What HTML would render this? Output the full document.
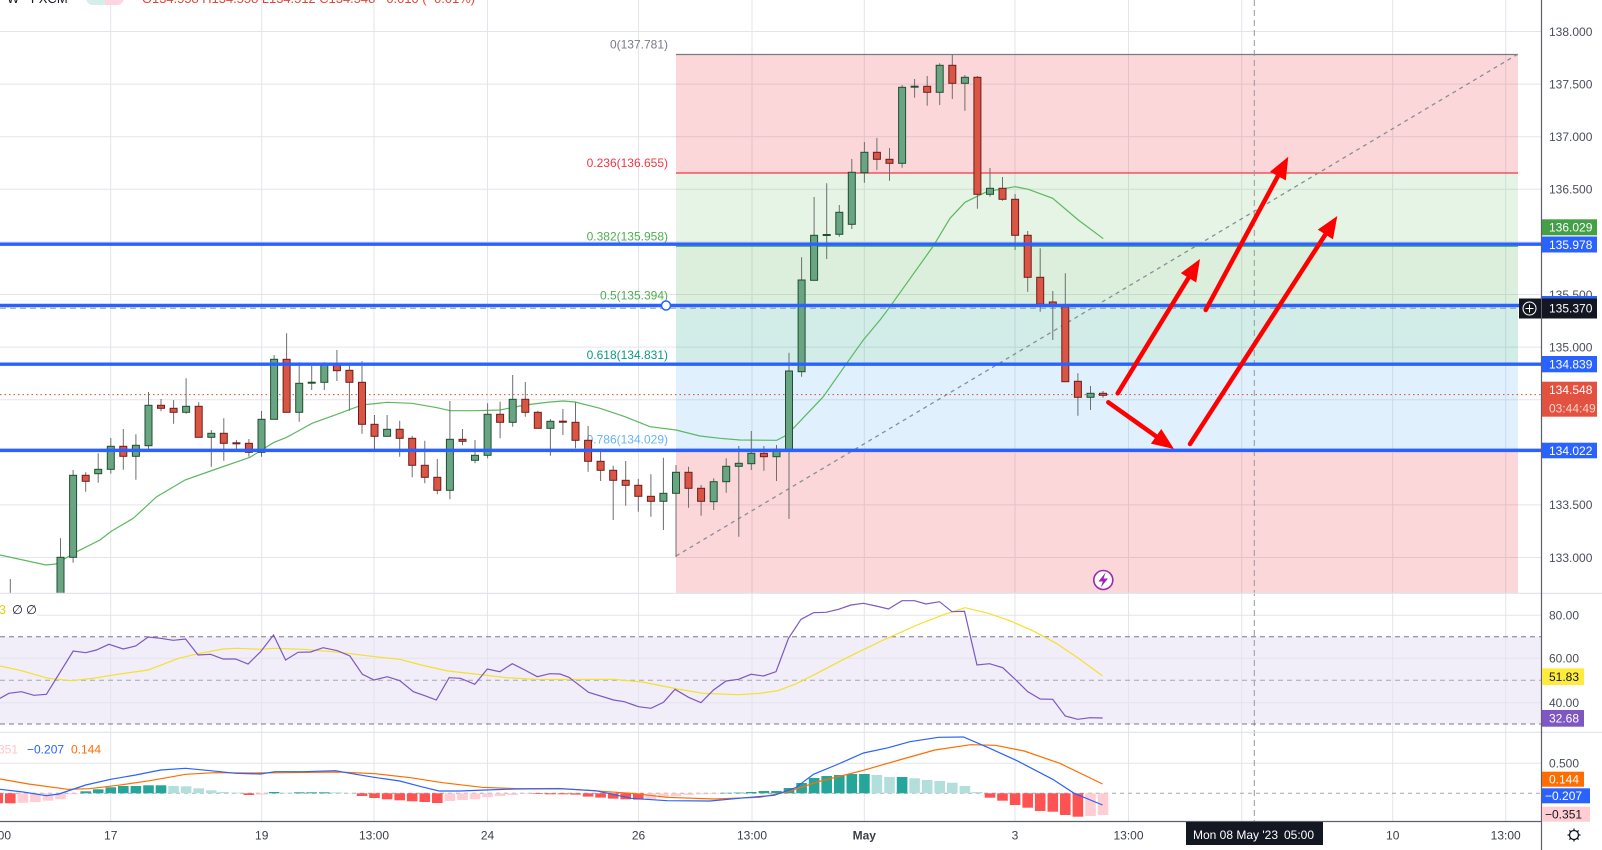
<!DOCTYPE html>
<html><head><meta charset="utf-8"><style>
html,body{margin:0;padding:0;background:#fff;}
body{width:1602px;height:850px;overflow:hidden;}
svg{display:block;font-family:"Liberation Sans",Arial,sans-serif;}
.w{stroke:#6e6e6e;stroke-width:1;fill:none}
.g{fill:#6aa583;stroke:#1e4f31;stroke-width:1}
.r{fill:#d95544;stroke:#701c1c;stroke-width:1}
.hg{fill:#26a69a}.hl{fill:#b2dfdb}.hr{fill:#ff5252}.hp{fill:#ffcdd2}
.ax{font-size:12px;fill:#4a4e59}
.tl{font-size:12px;fill:#3a3e49;text-anchor:middle}
.lb{font-size:12px;fill:#fff}
</style></head><body>
<svg width="1602" height="850" viewBox="0 0 1602 850" xmlns="http://www.w3.org/2000/svg">
<defs>
<clipPath id="mp"><rect x="0" y="0" width="1541" height="593"/></clipPath>
</defs>
<rect x="0" y="0" width="1602" height="850" fill="#fff"/>

<!-- RSI background -->
<rect x="0" y="636.7" width="1541" height="87.3" fill="#f1edf9"/>

<!-- grid -->
<g stroke="#e3e5eb" stroke-width="1">
<path d="M0 31.5H1541M0 84.1H1541M0 136.7H1541M0 189.3H1541M0 241.9H1541M0 294.5H1541M0 347.1H1541M0 399.7H1541M0 452.3H1541M0 504.9H1541M0 557.5H1541"/>
<path d="M0 615.3H1541M0 658.3H1541M0 702.7H1541M0 763.3H1541"/>
<path d="M110.7 0V821M261.7 0V821M374 0V821M487.5 0V821M638.5 0V821M752 0V821M864.3 0V821M1015 0V821M1128.5 0V821M1241.7 0V821M1392.7 0V821M1505.7 0V821"/>
</g>

<!-- fib fills -->
<g>
<rect x="676" y="54.5" width="842" height="118.5" fill="rgba(242,54,69,0.2)"/>
<rect x="676" y="173" width="842" height="73.3" fill="rgba(76,175,80,0.14)"/>
<rect x="676" y="246.3" width="842" height="59.3" fill="rgba(76,175,80,0.2)"/>
<rect x="676" y="305.6" width="842" height="59.3" fill="rgba(8,153,129,0.18)"/>
<rect x="676" y="364.9" width="842" height="84.4" fill="rgba(100,181,246,0.2)"/>
<rect x="676" y="449.3" width="842" height="143.7" fill="rgba(242,54,69,0.2)"/>
<path d="M676 54.5H1518" stroke="#787b86" stroke-width="1.3"/>
<path d="M676 173H1518" stroke="#f23645" stroke-width="1.2"/>
<path d="M676 246.3H1518" stroke="#4caf50" stroke-width="1.2"/>
<path d="M676 364.9H1518" stroke="#089981" stroke-width="1.2"/>
<path d="M676 449.3H1518" stroke="#64b5f6" stroke-width="1.2"/>
</g>
<g font-size="12" text-anchor="end">
<text x="668" y="48.5" fill="#787b86">0(137.781)</text>
<text x="668" y="167" fill="#f23645">0.236(136.655)</text>
<text x="668" y="240.3" fill="#4caf50">0.382(135.958)</text>
<text x="668" y="299.6" fill="#4caf50">0.5(135.394)</text>
<text x="668" y="358.9" fill="#089981">0.618(134.831)</text>
<text x="668" y="443.3" fill="#64b5f6">0.786(134.029)</text>
</g>

<!-- trend line dashed -->
<path d="M676 556L1518 54" stroke="#8a8d96" stroke-width="1.3" stroke-dasharray="4 4" fill="none"/>

<!-- crosshair -->
<path d="M0 308.2H1519" stroke="#9598a1" stroke-width="1" stroke-dasharray="6 4"/>
<path d="M1254.3 0V821" stroke="#9598a1" stroke-width="1" stroke-dasharray="6 4"/>

<!-- current price dotted -->
<path d="M0 394.6H1541" stroke="#e0453a" stroke-width="1" stroke-dasharray="1.5 3"/>

<!-- MA -->
<polyline fill="none" stroke="#5cb85f" stroke-width="1.2" clip-path="url(#mp)" points="0,555 46,565 55.7,564 76.7,551.7 100,540 111.7,531 133.3,518.3 156.7,496.7 185,480 213.3,470 250,457.3 273.3,442.7 286.7,437.3 300,430 312,423.3 337,414.3 362,405 387,402.3 412,403.3 437,407.7 450,410.7 475,410.7 500,410 525,405 550,402 563,401 575,402 600,408.3 625,416.7 650,426.7 676,430 700,436 720,438.3 740,440 776.7,440.3 785,436 793.3,428.3 823.3,396.7 846.7,363.3 863.3,340 880,320 890,306.7 933.3,246 950,218.3 965,202.3 986.7,191.7 1015,186.7 1028.3,189.3 1052.7,198.3 1078.3,220 1103.3,238.7"/>

<!-- candles -->
<g clip-path="url(#mp)">
<path class="w" d="M10.3 579V600M60.5 538.3V600M73.1 470V562.7M85.7 472.3V491.7M98.2 453.3V482.7M110.8 438V473.7M123.3 429V469.7M135.9 434.3V479.7M148.5 392V449.3M161 399V411.3M173.6 400V423.7M186.1 378.3V413.7M198.7 402.3V437.3M211.3 430V466.7M223.8 418.3V460.7M236.4 440V451M248.9 439V456.7M261.5 411V456.7M274.1 355V419.3M286.6 333.3V412.3M299.2 362.3V421.7M311.7 365.7V390M324.3 362.3V390M336.9 350V381M349.4 365.7V410.7M362 361.3V433.7M374.5 415V450.7M387.1 415V436.3M399.7 420.7V456.7M412.2 436V477.3M424.8 440.7V483.3M437.3 459V494.3M449.9 401V499.3M462.5 429V445.3M475 440V463.3M487.6 403.3V458.3M500.1 401.7V438.3M512.7 375V426.7M525.3 382V416.7M537.8 410.7V428.3M550.4 419V455.7M562.9 409V435M575.5 402.3V448.3M588.1 426V471.7M600.6 450V481M613.2 465.7V520M625.7 461V505.7M638.3 479V511.7M650.9 474.3V516.7M663.4 457.7V530M676 465V557M688.5 466.7V507.7M701.1 485V515.7M713.7 478.3V510M726.2 458.3V492.7M738.8 446V536.7M751.3 431V470M763.9 446V470.7M776.5 445V481M789 352.7V519M801.6 257.3V376.7M814.1 197V280.3M826.7 183.3V259M839.3 205V236.7M851.8 159V229M864.4 142V182.7M876.9 138V170M889.5 148V180.7M902.1 85V167.7M914.6 79V97.7M927.2 76V105.7M939.7 63.3V105M952.3 54.3V99M964.9 75V110.7M977.4 76V208.7M990 168V196.7M1002.5 177V200.7M1015.1 194V250M1027.7 231V291.7M1040.2 248.3V311.7M1052.8 291V340M1065.3 273.3V381.7M1077.9 373.3V415.7M1090.5 386V410M1103 391V397.7"/>
<rect class="g" x="57" y="557.3" width="7" height="40"/>
<rect class="g" x="69.6" y="475.3" width="7" height="82"/>
<rect class="r" x="82.2" y="475.3" width="7" height="6"/>
<rect class="g" x="94.7" y="469.3" width="7" height="4.4"/>
<rect class="g" x="107.3" y="446.3" width="7" height="23"/>
<rect class="r" x="119.8" y="446.3" width="7" height="10"/>
<rect class="g" x="132.4" y="445.3" width="7" height="11"/>
<rect class="g" x="145" y="405.3" width="7" height="40.4"/>
<rect class="r" x="157.5" y="405.3" width="7" height="3"/>
<rect class="r" x="170.1" y="408.3" width="7" height="4"/>
<rect class="g" x="182.6" y="406.3" width="7" height="6"/>
<rect class="r" x="195.2" y="406.3" width="7" height="31"/>
<rect class="g" x="207.8" y="433.3" width="7" height="4"/>
<rect class="r" x="220.3" y="433.3" width="7" height="10"/>
<rect class="r" x="232.9" y="442.8" width="7" height="1"/>
<rect class="r" x="245.4" y="443.3" width="7" height="9"/>
<rect class="g" x="258" y="419.3" width="7" height="33"/>
<rect class="g" x="270.6" y="359.3" width="7" height="60"/>
<rect class="r" x="283.1" y="359.3" width="7" height="53"/>
<rect class="g" x="295.7" y="383.3" width="7" height="29"/>
<rect class="g" x="308.2" y="382.2" width="7" height="1"/>
<rect class="g" x="320.8" y="364" width="7" height="18.3"/>
<rect class="r" x="333.4" y="364" width="7" height="6.7"/>
<rect class="r" x="345.9" y="370.3" width="7" height="12"/>
<rect class="r" x="358.5" y="382.3" width="7" height="42"/>
<rect class="r" x="371" y="424.3" width="7" height="12"/>
<rect class="g" x="383.6" y="429.3" width="7" height="7"/>
<rect class="r" x="396.2" y="429.3" width="7" height="9"/>
<rect class="r" x="408.7" y="438.3" width="7" height="27"/>
<rect class="r" x="421.3" y="465.3" width="7" height="12"/>
<rect class="r" x="433.8" y="477.3" width="7" height="13"/>
<rect class="g" x="446.4" y="439.3" width="7" height="51"/>
<rect class="r" x="459" y="439.3" width="7" height="2"/>
<rect class="g" x="471.5" y="455.3" width="7" height="5"/>
<rect class="g" x="484.1" y="414.3" width="7" height="41"/>
<rect class="r" x="496.6" y="414.3" width="7" height="8"/>
<rect class="g" x="509.2" y="399.3" width="7" height="23"/>
<rect class="r" x="521.8" y="399.3" width="7" height="13"/>
<rect class="r" x="534.3" y="412.3" width="7" height="16"/>
<rect class="g" x="546.9" y="421.3" width="7" height="7"/>
<rect class="r" x="559.4" y="421.2" width="7" height="1"/>
<rect class="r" x="572" y="422.3" width="7" height="18"/>
<rect class="r" x="584.6" y="440.3" width="7" height="21"/>
<rect class="r" x="597.1" y="461.3" width="7" height="9"/>
<rect class="r" x="609.7" y="470.3" width="7" height="10"/>
<rect class="r" x="622.2" y="480.3" width="7" height="5"/>
<rect class="r" x="634.8" y="485.3" width="7" height="11"/>
<rect class="r" x="647.4" y="496.3" width="7" height="5"/>
<rect class="g" x="659.9" y="493.3" width="7" height="8"/>
<rect class="g" x="672.5" y="472.3" width="7" height="21"/>
<rect class="r" x="685" y="472.3" width="7" height="16"/>
<rect class="r" x="697.6" y="488.3" width="7" height="13"/>
<rect class="g" x="710.2" y="481.7" width="7" height="20"/>
<rect class="g" x="722.7" y="466.3" width="7" height="15.4"/>
<rect class="g" x="735.3" y="463.3" width="7" height="3"/>
<rect class="g" x="747.8" y="453.3" width="7" height="10.4"/>
<rect class="r" x="760.4" y="453.3" width="7" height="3.4"/>
<rect class="g" x="773" y="449.3" width="7" height="7.4"/>
<rect class="g" x="785.5" y="371" width="7" height="78.3"/>
<rect class="g" x="798.1" y="280" width="7" height="91.7"/>
<rect class="g" x="810.6" y="235.3" width="7" height="45"/>
<rect class="g" x="823.2" y="234.5" width="7" height="1"/>
<rect class="g" x="835.8" y="212.3" width="7" height="22"/>
<rect class="g" x="848.3" y="172.3" width="7" height="52"/>
<rect class="g" x="860.9" y="152.3" width="7" height="20.4"/>
<rect class="r" x="873.4" y="152.3" width="7" height="7"/>
<rect class="r" x="886" y="159.3" width="7" height="4"/>
<rect class="g" x="898.6" y="87.3" width="7" height="76"/>
<rect class="g" x="911.1" y="86.2" width="7" height="1"/>
<rect class="r" x="923.7" y="86.3" width="7" height="6"/>
<rect class="g" x="936.2" y="65.3" width="7" height="27"/>
<rect class="r" x="948.8" y="65.3" width="7" height="18"/>
<rect class="g" x="961.4" y="77.3" width="7" height="6"/>
<rect class="r" x="973.9" y="77.3" width="7" height="117"/>
<rect class="g" x="986.5" y="188.3" width="7" height="6"/>
<rect class="r" x="999" y="188.3" width="7" height="11"/>
<rect class="r" x="1011.6" y="199.3" width="7" height="36"/>
<rect class="r" x="1024.2" y="235.3" width="7" height="42"/>
<rect class="r" x="1036.7" y="277.3" width="7" height="26.7"/>
<rect class="r" x="1049.3" y="302" width="7" height="4"/>
<rect class="r" x="1061.8" y="306.7" width="7" height="75"/>
<rect class="r" x="1074.4" y="381.3" width="7" height="16"/>
<rect class="g" x="1087" y="393.3" width="7" height="4"/>
<rect class="r" x="1099.5" y="393.3" width="7" height="2"/>
</g>

<!-- blue horizontal lines -->
<g stroke="#2962ff" stroke-width="3.4">
<path d="M0 244.2H1541M0 305.5H1541M0 364.2H1541M0 450.3H1541"/>
</g>
<circle cx="666" cy="305.5" r="4.5" fill="#fff" stroke="#2962ff" stroke-width="1.5"/>

<!-- red arrows -->
<g stroke="#ff0000" stroke-width="4.5" stroke-linecap="round" fill="none">
<path d="M1117.7 393.3L1188.5 277.8"/>
<path d="M1108.3 402.3L1156.1 436.3"/>
<path d="M1205.7 310L1277.9 176.1"/>
<path d="M1190 444L1325.4 234.5"/>
</g>
<g fill="#ff0000">
<polygon points="1200,259 1196.2,282.5 1180.8,273.1"/>
<polygon points="1174,449 1150.9,443.6 1161.3,429"/>
<polygon points="1288.3,156.7 1285.8,180.4 1270,171.8"/>
<polygon points="1337.3,216 1333,239.4 1317.8,229.6"/>
</g>

<!-- lightning icon -->
<circle cx="1103.3" cy="580" r="9.5" fill="#fff" stroke="#9c27b0" stroke-width="1.6"/>
<polygon points="1105.5,572.5 1098.5,581.5 1102.8,581.5 1100.8,587.5 1108,578.5 1103.6,578.5" fill="#9c27b0"/>

<!-- header -->
<text x="7" y="3" font-size="13" fill="#131722">W · FXCM</text>
<rect x="86" y="-10" width="38" height="15" rx="7" fill="#fdd5e0"/>
<path d="M93 -10H105V5H93A7 7 0 0 1 86 -2V-3A7 7 0 0 1 93 -10Z" fill="#d4efe9"/>
<text x="142" y="3" font-size="13" fill="#e0453a" textLength="333" lengthAdjust="spacingAndGlyphs">O134.558 H134.558 L134.512 C134.548 −0.010 (−0.01%)</text>

<!-- RSI pane -->
<path d="M0 636.7H1541M0 724H1541" stroke="#787b86" stroke-width="1" stroke-dasharray="5 4"/>
<path d="M0 680.3H1541" stroke="#a5a8b0" stroke-width="1" stroke-dasharray="5 4"/>
<polyline fill="none" stroke="#f5e02a" stroke-width="1.2" points="0,666 21.4,670.7 48.2,678.3 71.4,680.7 92.8,678.3 117.8,674.3 148.2,670 178.5,658.3 199.9,653.3 223.1,649 237.4,648.3 260.6,649.3 273.1,648.3 303.5,649.3 339.2,652.3 374.9,656.7 399.8,659.3 421.3,665 448,671 474.8,674 507,677.7 535.5,679.3 560,679.5 613.6,679.3 642.1,682 677.8,689 702.8,693.3 738.5,694.7 760,693.3 777.8,690.7 795.6,684 817,673.3 845.6,658.3 881.3,641 917,625 945.6,614 965.2,607.7 988.4,613.3 1009.8,620.7 1034.8,631.7 1056.2,643.3 1077.7,657.7 1102.6,676"/>
<polyline fill="none" stroke="#7e57c2" stroke-width="1.2" points="0,698.3 8.9,693.3 21.4,691.7 33.9,695.3 46.4,694.3 73.2,651 85.7,652.7 96.4,650 108.9,644.3 123.2,649 135.7,646 148.2,637 160.7,638.3 173.2,640.3 185.6,639 198.1,655 210.6,654.3 223.1,659 235.6,659 248.1,664 260.6,651.7 273.5,635 285.6,660 298.1,652.3 310.6,652 323.1,647.7 337.4,650.7 349.9,656 362.4,674.3 374.1,680 387.3,676.7 399.8,680.7 413.4,691.7 424.8,695.7 436.3,700 449.1,677.7 460.5,678.3 474.8,684.3 487.3,669 499.8,671.7 512.3,663.7 524.8,670 537.3,676.7 549.8,673.7 560,674 568.9,677.3 588.6,692.3 613.6,700 624.3,701.7 638.5,706.7 651,708.3 663.5,702.3 675,689.3 688.5,697.3 701,702.7 713.5,690 726,681 738.5,679.3 751,674.3 763.5,676 776,671.7 788.5,638.3 801,619.3 813.5,612.7 826,612.3 838.5,609.3 851,605 863.5,603.3 876,606 888.5,609 902,600.7 914.5,600.7 926,604 939.5,601.7 952,611.7 964.5,611.3 977,665 989.5,663.7 1002.7,667.7 1015.2,679.3 1027.7,691.7 1040.2,699 1052.7,699.3 1065.2,716 1077.7,719.3 1090.2,717.7 1102.6,718"/>
<rect x="0" y="602" width="37" height="14" fill="#fff"/>
<text x="-1" y="614" font-size="12.5" fill="#e8cf10">3</text>
<text x="12" y="614" font-size="12.5" fill="#131722">∅</text>
<text x="26" y="614" font-size="12.5" fill="#131722">∅</text>

<!-- MACD pane -->
<path d="M0 793.3H1541" stroke="#a5a8b0" stroke-width="1" stroke-dasharray="4 4"/>
<g>
<rect class="hr" x="-7.6" y="793.3" width="10.6" height="10"/>
<rect class="hr" x="5" y="793.3" width="10.6" height="10"/>
<rect class="hp" x="17.6" y="793.3" width="10.6" height="9.5"/>
<rect class="hp" x="30.1" y="793.3" width="10.6" height="8.7"/>
<rect class="hp" x="42.7" y="793.3" width="10.6" height="7.4"/>
<rect class="hp" x="55.2" y="793.3" width="10.6" height="6"/>
<rect class="hp" x="67.8" y="793.3" width="10.6" height="1"/>
<rect class="hg" x="80.4" y="791.3" width="10.6" height="2"/>
<rect class="hg" x="92.9" y="789.3" width="10.6" height="4"/>
<rect class="hg" x="105.5" y="787.3" width="10.6" height="6"/>
<rect class="hg" x="118" y="786" width="10.6" height="7.3"/>
<rect class="hg" x="130.6" y="786" width="10.6" height="7.3"/>
<rect class="hg" x="143.2" y="785.3" width="10.6" height="8"/>
<rect class="hg" x="155.7" y="785.3" width="10.6" height="8"/>
<rect class="hl" x="168.3" y="786" width="10.6" height="7.3"/>
<rect class="hl" x="180.8" y="786.3" width="10.6" height="7"/>
<rect class="hl" x="193.4" y="788.3" width="10.6" height="5"/>
<rect class="hl" x="206" y="790.3" width="10.6" height="3"/>
<rect class="hl" x="218.5" y="792" width="10.6" height="1.3"/>
<rect class="hl" x="231.1" y="792.6" width="10.6" height="0.7"/>
<rect class="hr" x="243.6" y="793.3" width="10.6" height="1.7"/>
<rect class="hp" x="256.2" y="793.3" width="10.6" height="1.3"/>
<rect class="hg" x="268.8" y="792" width="10.6" height="1.3"/>
<rect class="hl" x="281.3" y="792.8" width="10.6" height="0.5"/>
<rect class="hg" x="293.9" y="792.3" width="10.6" height="1"/>
<rect class="hg" x="306.4" y="792.3" width="10.6" height="1"/>
<rect class="hg" x="319" y="792.3" width="10.6" height="1"/>
<rect class="hl" x="331.6" y="792.3" width="10.6" height="1"/>
<rect class="hl" x="344.1" y="793" width="10.6" height="0.3"/>
<rect class="hr" x="356.7" y="793.3" width="10.6" height="2.7"/>
<rect class="hr" x="369.2" y="793.3" width="10.6" height="4.7"/>
<rect class="hr" x="381.8" y="793.3" width="10.6" height="6"/>
<rect class="hr" x="394.4" y="793.3" width="10.6" height="7"/>
<rect class="hr" x="406.9" y="793.3" width="10.6" height="8"/>
<rect class="hr" x="419.5" y="793.3" width="10.6" height="8.7"/>
<rect class="hr" x="432" y="793.3" width="10.6" height="9.7"/>
<rect class="hp" x="444.6" y="793.3" width="10.6" height="7.7"/>
<rect class="hp" x="457.2" y="793.3" width="10.6" height="6.7"/>
<rect class="hp" x="469.7" y="793.3" width="10.6" height="6"/>
<rect class="hp" x="482.3" y="793.3" width="10.6" height="4"/>
<rect class="hp" x="494.8" y="793.3" width="10.6" height="2.7"/>
<rect class="hp" x="507.4" y="793.3" width="10.6" height="1.7"/>
<rect class="hp" x="520" y="793.3" width="10.6" height="0.7"/>
<rect class="hr" x="532.5" y="793.3" width="10.6" height="0.7"/>
<rect class="hr" x="545.1" y="793.3" width="10.6" height="1"/>
<rect class="hr" x="557.6" y="793.3" width="10.6" height="1"/>
<rect class="hr" x="570.2" y="793.3" width="10.6" height="1.3"/>
<rect class="hr" x="582.8" y="793.3" width="10.6" height="3.3"/>
<rect class="hr" x="595.3" y="793.3" width="10.6" height="4.3"/>
<rect class="hr" x="607.9" y="793.3" width="10.6" height="5.3"/>
<rect class="hr" x="620.4" y="793.3" width="10.6" height="6"/>
<rect class="hr" x="633" y="793.3" width="10.6" height="6.3"/>
<rect class="hp" x="645.6" y="793.3" width="10.6" height="6"/>
<rect class="hp" x="658.1" y="793.3" width="10.6" height="4.3"/>
<rect class="hp" x="670.7" y="793.3" width="10.6" height="2.7"/>
<rect class="hp" x="683.2" y="793.3" width="10.6" height="1.7"/>
<rect class="hp" x="695.8" y="793.3" width="10.6" height="1"/>
<rect class="hp" x="708.4" y="793.3" width="10.6" height="0.7"/>
<rect class="hg" x="720.9" y="792.8" width="10.6" height="0.5"/>
<rect class="hg" x="733.5" y="792.6" width="10.6" height="0.7"/>
<rect class="hg" x="746" y="792" width="10.6" height="1.3"/>
<rect class="hg" x="758.6" y="791" width="10.6" height="2.3"/>
<rect class="hg" x="771.2" y="791" width="10.6" height="2.3"/>
<rect class="hg" x="783.7" y="788" width="10.6" height="5.3"/>
<rect class="hg" x="796.3" y="783" width="10.6" height="10.3"/>
<rect class="hg" x="808.8" y="778" width="10.6" height="15.3"/>
<rect class="hg" x="821.4" y="776" width="10.6" height="17.3"/>
<rect class="hg" x="834" y="775" width="10.6" height="18.3"/>
<rect class="hg" x="846.5" y="774" width="10.6" height="19.3"/>
<rect class="hg" x="859.1" y="774" width="10.6" height="19.3"/>
<rect class="hl" x="871.6" y="775" width="10.6" height="18.3"/>
<rect class="hl" x="884.2" y="777" width="10.6" height="16.3"/>
<rect class="hg" x="896.8" y="777" width="10.6" height="16.3"/>
<rect class="hl" x="909.3" y="778.3" width="10.6" height="15"/>
<rect class="hl" x="921.9" y="780" width="10.6" height="13.3"/>
<rect class="hl" x="934.4" y="781" width="10.6" height="12.3"/>
<rect class="hl" x="947" y="782.7" width="10.6" height="10.6"/>
<rect class="hl" x="959.6" y="786" width="10.6" height="7.3"/>
<rect class="hl" x="972.1" y="792" width="10.6" height="1.3"/>
<rect class="hr" x="984.7" y="793.3" width="10.6" height="4.4"/>
<rect class="hr" x="997.2" y="793.3" width="10.6" height="7.4"/>
<rect class="hr" x="1009.8" y="793.3" width="10.6" height="11.7"/>
<rect class="hr" x="1022.4" y="793.3" width="10.6" height="14.4"/>
<rect class="hr" x="1034.9" y="793.3" width="10.6" height="17.7"/>
<rect class="hr" x="1047.5" y="793.3" width="10.6" height="18.4"/>
<rect class="hr" x="1060" y="793.3" width="10.6" height="21.7"/>
<rect class="hr" x="1072.6" y="793.3" width="10.6" height="23.4"/>
<rect class="hp" x="1085.2" y="793.3" width="10.6" height="22.7"/>
<rect class="hp" x="1097.7" y="793.3" width="10.6" height="21.7"/>
</g>
<polyline fill="none" stroke="#ff6d00" stroke-width="1.2" points="0,779 28.6,784 67.8,789.3 89.3,788.7 117.8,785.3 149.9,780.7 185.6,774.3 214.2,772.7 249.9,773 285.6,772.7 339.2,772 374.9,773.7 410.6,777.7 442.7,782.7 482,787.3 517.7,788.7 560,788.5 631.4,793.3 667.1,797.3 713.5,799 760,797.3 788.5,791.7 817,782 863.5,770.3 899.2,760 934.9,750 970.6,744.7 995.5,745.3 1024.1,751 1059.8,763.3 1102.6,784"/>
<polyline fill="none" stroke="#2962ff" stroke-width="1.2" points="0,789.3 23.2,792 46.4,795.7 58.9,794 85.7,785 110.7,779.3 135.7,775 160.7,770 185.6,768.3 210.6,770.7 235.6,773.3 260.6,774 274.9,771.7 303.5,771.7 335.6,770.7 349.9,773.3 374.1,777.3 399.8,781 421.3,786.7 439.1,791 460.5,791 485.5,790 514.1,789 560,788.7 595.7,790.7 631.4,798.3 667.1,800.7 710,801 745.6,797.7 774.2,795.3 795.6,787.7 813.5,774.3 838.5,764 863.5,753 888.5,747.7 909.9,741.7 938.4,737.3 963.4,737 988.4,747.7 1017,760.7 1052.7,779.3 1074.1,793.3 1102.6,805"/>
<text x="-2" y="753.5" font-size="12" fill="#ffc4cb">351</text>
<text x="27" y="753.5" font-size="12" fill="#2962ff">−0.207</text>
<text x="71" y="753.5" font-size="12" fill="#ff6d00">0.144</text>

<!-- pane separators -->
<path d="M0 593.3H1602M0 732.3H1602" stroke="#e0e3eb" stroke-width="1.2"/>
<path d="M0 821.5H1541" stroke="#5d606b" stroke-width="1.2"/>
<path d="M1541.5 0V850" stroke="#5d606b" stroke-width="1.2"/>

<!-- right axis labels -->
<g class="ax">
<text x="1549" y="35.8">138.000</text>
<text x="1549" y="88.4">137.500</text>
<text x="1549" y="141">137.000</text>
<text x="1549" y="193.6">136.500</text>
<text x="1549" y="298.8">135.500</text>
<text x="1549" y="351.4">135.000</text>
<text x="1549" y="509.2">133.500</text>
<text x="1549" y="561.8">133.000</text>
<text x="1549" y="619.6">80.00</text>
<text x="1549" y="662.6">60.00</text>
<text x="1549" y="707">40.00</text>
<text x="1549" y="767.6">0.500</text>
</g>
<rect x="1542" y="219.3" width="55" height="16" fill="#43a047"/>
<text class="lb" x="1549" y="231.6">136.029</text>
<rect x="1542" y="236.5" width="55" height="16" fill="#2962ff"/>
<text class="lb" x="1549" y="248.8">135.978</text>
<rect x="1542" y="296" width="55" height="4" fill="#2962ff"/>
<rect x="1542" y="298.5" width="55" height="20" fill="#131722"/>
<text class="lb" x="1549" y="312.6">135.370</text>
<rect x="1519" y="298.5" width="22" height="20" fill="#131722"/>
<circle cx="1529.5" cy="308.5" r="6.5" fill="none" stroke="#fff" stroke-width="1"/>
<path d="M1529.5 304.5V312.5M1525.5 308.5H1533.5" stroke="#fff" stroke-width="1"/>
<rect x="1542" y="356" width="55" height="16.3" fill="#2962ff"/>
<text class="lb" x="1549" y="368.4">134.839</text>
<rect x="1542" y="381.7" width="55" height="35" fill="#e35240"/>
<text class="lb" x="1549" y="394">134.548</text>
<text x="1549" y="412.3" font-size="12" fill="#fcd3cd">03:44:49</text>
<rect x="1542" y="442.7" width="55" height="15.6" fill="#2962ff"/>
<text class="lb" x="1549" y="454.8">134.022</text>
<rect x="1542" y="668.3" width="42" height="16.7" fill="#ffeb3b"/>
<text x="1549" y="681" font-size="12" fill="#131722">51.83</text>
<rect x="1542" y="710" width="42" height="16.7" fill="#7e57c2"/>
<text class="lb" x="1549" y="722.7">32.68</text>
<rect x="1542" y="771.7" width="42" height="15" fill="#ff6d00"/>
<text class="lb" x="1549" y="783.6">0.144</text>
<rect x="1542" y="788.3" width="48" height="15" fill="#2962ff"/>
<text class="lb" x="1545" y="800.2">−0.207</text>
<rect x="1542" y="806.7" width="48" height="15" fill="#ffcdd2"/>
<text x="1545" y="818.6" font-size="12" fill="#131722">−0.351</text>

<!-- time axis -->
<g class="tl">
<text x="-4" y="839.5">13:00</text>
<text x="110.7" y="839.5">17</text>
<text x="261.7" y="839.5">19</text>
<text x="374" y="839.5">13:00</text>
<text x="487.5" y="839.5">24</text>
<text x="638.5" y="839.5">26</text>
<text x="752" y="839.5">13:00</text>
<text x="864.3" y="839.5" font-weight="bold">May</text>
<text x="1015" y="839.5">3</text>
<text x="1128.5" y="839.5">13:00</text>
<text x="1392.7" y="839.5">10</text>
<text x="1505.7" y="839.5">13:00</text>
</g>
<rect x="1186" y="822" width="137" height="23" fill="#131722"/>
<text x="1193" y="839" font-size="12" fill="#fff">Mon 08 May '23</text>
<text x="1284" y="839" font-size="12" fill="#fff">05:00</text>

<!-- gear -->
<g stroke="#131722" stroke-width="1.3" fill="none">
<circle cx="1574" cy="835" r="4.5"/>
<path d="M1574 828.5V830.5M1574 839.5V841.5M1567.5 835H1569.5M1578.5 835H1580.5M1569.4 830.4L1570.8 831.8M1577.2 838.2L1578.6 839.6M1569.4 839.6L1570.8 838.2M1577.2 831.8L1578.6 830.4"/>
</g>
</svg>
</body></html>
